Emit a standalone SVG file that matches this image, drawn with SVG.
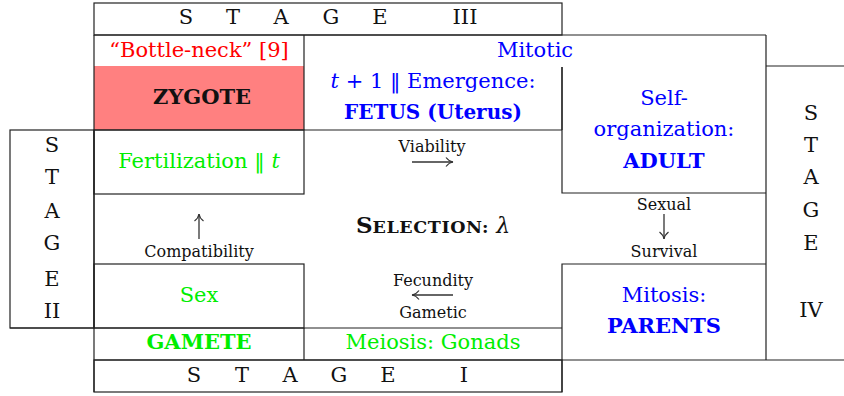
<svg xmlns="http://www.w3.org/2000/svg" width="844" height="396" viewBox="0 0 844 396">
<style>
text{font-family:"DejaVu Serif","Liberation Serif",serif;text-anchor:middle}
.m{font-size:21px}
.s{font-size:16px;fill:#111}
.st{font-size:21px;fill:#111}
.b{font-weight:bold}
.blue{fill:#0000ff}
.green{fill:#00ee00}
.red{fill:#ff0000}
.ln{stroke:#222;stroke-width:1.2;fill:none}
.ar{stroke:#333;stroke-width:1.3;fill:none}
</style>
<defs>
<marker id="hd" viewBox="0 0 12 12" refX="11" refY="6" markerWidth="12" markerHeight="12" markerUnits="userSpaceOnUse" orient="auto">
<path d="M4,1.5 Q7,5.4 11,6 Q7,6.6 4,10.5" fill="none" stroke="#333" stroke-width="1.2"/>
</marker>
</defs>
<rect width="844" height="396" fill="#fff"/>

<g id="stage3">
<rect class="ln" x="94" y="3" width="468" height="32"/>
<text class="st" x="186" y="24">S</text><text class="st" x="233" y="24">T</text><text class="st" x="281" y="24">A</text><text class="st" x="331" y="24">G</text><text class="st" x="380" y="24">E</text><text class="st" x="465" y="24">III</text>
</g>

<g id="bottleneck">
<text class="m red" x="199" y="57">“Bottle-neck” [9]</text>
</g>

<g id="zygote">
<rect x="94" y="66" width="210" height="64" fill="#ff8080"/>
<text class="m b" x="202" y="104" fill="#111">ZYGOTE</text>
</g>

<g id="mitotic">
<text class="m blue" x="535" y="57">Mitotic</text>
</g>

<g id="fetus">
<text class="m blue" x="433" y="88"><tspan font-style="italic">t</tspan> + 1 ‖ Emergence:</text>
<text class="blue b" font-size="20" x="433" y="119">FETUS (Uterus)</text>
</g>

<g id="adult">
<path class="ln" d="M562,67 V193 H766"/>
<text class="m blue" x="664" y="105">Self-</text>
<text class="m blue" x="664" y="136">organization:</text>
<text class="m blue b" x="664" y="168">ADULT</text>
</g>

<g id="stage4">
<path class="ln" d="M766,35 V360 M766,66 H844"/>
<text class="st" x="811" y="120">S</text><text class="st" x="811" y="152">T</text><text class="st" x="811" y="184">A</text><text class="st" x="811" y="217">G</text><text class="st" x="811" y="250">E</text><text class="st" x="811" y="317">IV</text>
</g>

<g id="fertilization">
<rect class="ln" x="94" y="130" width="210" height="64"/>
<text class="m green" x="199" y="168">Fertilization ‖ <tspan font-style="italic">t</tspan></text>
</g>

<g id="viability">
<text class="s" x="432" y="152">Viability</text>
</g>

<g id="stage2">
<rect class="ln" x="10" y="130" width="84" height="198"/>
<text class="st" x="52" y="152">S</text><text class="st" x="52" y="184">T</text><text class="st" x="52" y="218">A</text><text class="st" x="52" y="250">G</text><text class="st" x="52" y="286">E</text><text class="st" x="52" y="318">II</text>
</g>

<g id="compatibility">
<text class="s" x="199" y="257">Compatibility</text>
</g>

<g id="selection">
<text x="433" y="233" font-weight="bold" fill="#111"><tspan font-size="23">S</tspan><tspan font-size="17.5" letter-spacing="0.6">ELECTION:</tspan><tspan font-size="22" font-weight="normal" font-style="italic"> λ</tspan></text>
</g>

<g id="survival">
<text class="s" x="664" y="210">Sexual</text>
<text class="s" x="664" y="257">Survival</text>
</g>

<g id="sex">
<rect class="ln" x="94" y="264" width="210" height="64"/>
<text class="m green" x="199" y="302">Sex</text>
</g>

<g id="fecundity">
<text class="s" x="433" y="286">Fecundity</text>
<text class="s" x="433" y="318">Gametic</text>
</g>

<g id="parents">
<path class="ln" d="M766,264 H562 V392"/>
<text class="m blue" x="664" y="302">Mitosis:</text>
<text class="m blue b" x="664" y="333">PARENTS</text>
</g>

<g id="gamete">
<text class="m green b" x="199" y="349">GAMETE</text>
</g>

<g id="meiosis">
<text class="m green" x="433" y="349">Meiosis: Gonads</text>
</g>

<g id="stage1">
<rect class="ln" x="94" y="360" width="468" height="32"/>
<text class="st" x="194" y="382">S</text><text class="st" x="242" y="382">T</text><text class="st" x="290" y="382">A</text><text class="st" x="339" y="382">G</text><text class="st" x="388" y="382">E</text><text class="st" x="464" y="382">I</text>
</g>

<g id="grid">
<path class="ln" d="M94,35 H766 M94,35 V392 M304,35 V130 M94,130 H562 M562,67 V130 M304,328 V360 M10,328 H562 M94,360 H844"/>
</g>

<g id="connectors">
<path class="ar" d="M199,239 V214" marker-end="url(#hd)"/>
<path class="ar" d="M412,162 H453" marker-end="url(#hd)"/>
<path class="ar" d="M664,214 V239" marker-end="url(#hd)"/>
<path class="ar" d="M453,295 H412" marker-end="url(#hd)"/>
</g>
</svg>
